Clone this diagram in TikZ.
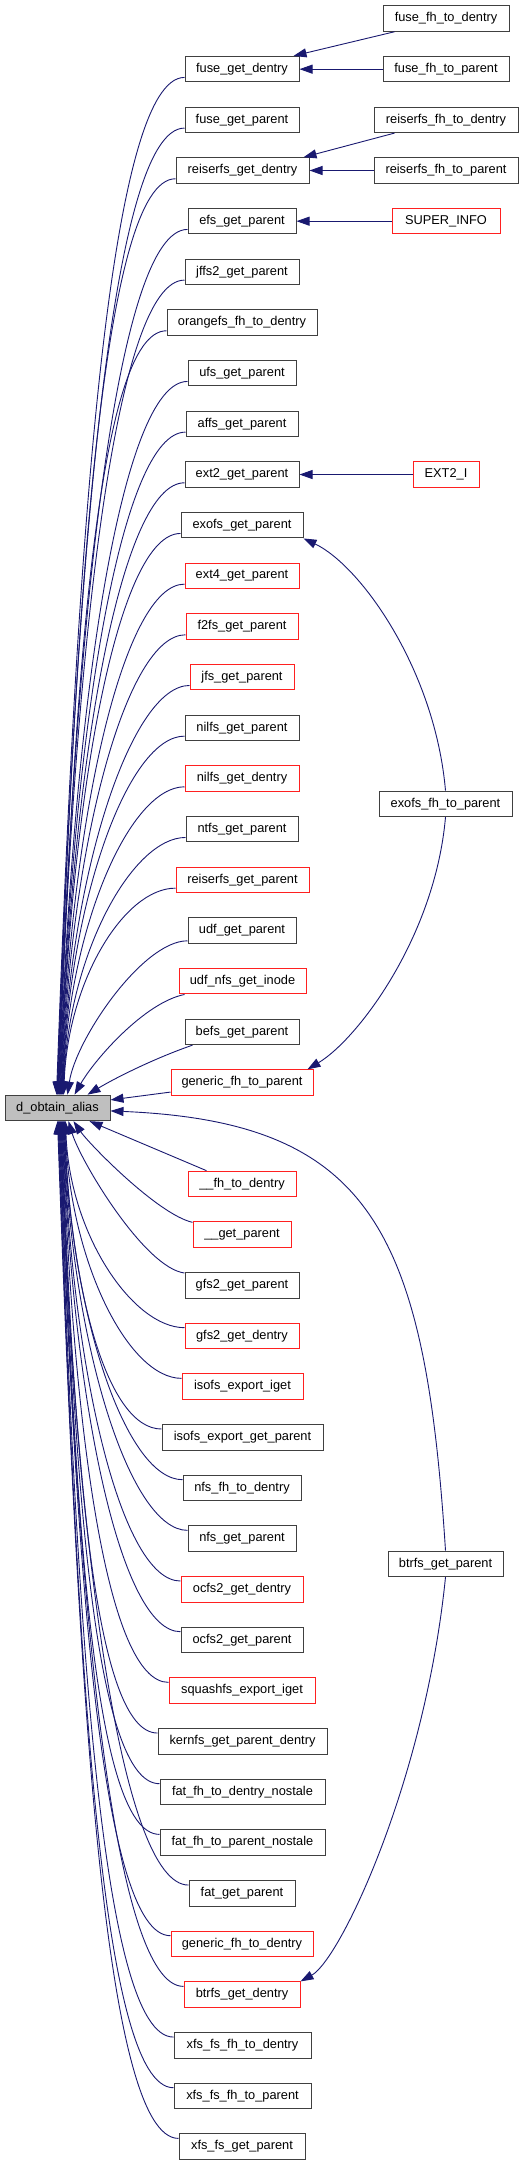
\documentclass[tikz,border=0pt]{standalone}
\usepackage{fontspec}
\setmainfont{Liberation Sans}
\usetikzlibrary{arrows.meta,calc}
\definecolor{edgeblue}{HTML}{191970}
\definecolor{boxgray}{HTML}{404040}
\definecolor{boxred}{HTML}{FF2020}
\definecolor{fillgray}{HTML}{BFBFBF}
\begin{document}
\begin{tikzpicture}[x=1pt,y=-1pt,
  fn/.style={draw=boxgray, line width=1pt, minimum height=25.5pt, inner sep=0pt,
    fill=white, font=\fontsize{12.8}{14}\selectfont},
  rn/.style={fn, draw=boxred},
  edge/.style={draw=edgeblue, line width=0.9pt, -{Triangle[length=13pt,width=9pt]}}]
\useasboundingbox (0,0) rectangle (525,2165);
% focus node
\node[fn, fill=fillgray, minimum width=105pt] (d) at (57.5,1107.9) {d\_obtain\_alias};
% right column
\node[fn, minimum width=126pt] (fftd) at (446,18.5) {fuse\_fh\_to\_dentry};
\node[fn, minimum width=126pt] (fftp) at (446,69.17) {fuse\_fh\_to\_parent};
\node[fn, minimum width=144pt] (rftd) at (446,119.84) {reiserfs\_fh\_to\_dentry};
\node[fn, minimum width=144pt] (rftp) at (446,170.51) {reiserfs\_fh\_to\_parent};
\node[rn, minimum width=108pt] (super) at (446,221.18) {SUPER\_INFO};
\node[rn, minimum width=66pt] (ext2i) at (446,474.53) {EXT2\_I};
\node[fn, minimum width=133pt] (efp) at (445.5,803.9) {exofs\_fh\_to\_parent};
\node[fn, minimum width=115pt] (btp) at (445.5,1563.9) {btrfs\_get\_parent};
% middle column
\node[fn, minimum width=114pt] (fgd) at (242,69.17) {fuse\_get\_dentry};
\node[fn, minimum width=114pt] (fgp) at (242,119.84) {fuse\_get\_parent};
\node[fn, minimum width=133pt] (rgd) at (242.5,170.51) {reiserfs\_get\_dentry};
\node[fn, minimum width=108pt] (efs) at (242,221.18) {efs\_get\_parent};
\node[fn, minimum width=114pt] (jffs) at (242,271.85) {jffs2\_get\_parent};
\node[fn, minimum width=150pt] (orange) at (242,322.52) {orangefs\_fh\_to\_dentry};
\node[fn, minimum width=108pt] (ufs) at (242,373.19) {ufs\_get\_parent};
\node[fn, minimum width=112pt] (affs) at (242,423.86) {affs\_get\_parent};
\node[fn, minimum width=114pt] (ext2) at (242,474.53) {ext2\_get\_parent};
\node[fn, minimum width=122pt] (exofs) at (242,525.2) {exofs\_get\_parent};
\node[rn, minimum width=114pt] (ext4) at (242,575.87) {ext4\_get\_parent};
\node[rn, minimum width=112pt] (f2fs) at (242,626.54) {f2fs\_get\_parent};
\node[rn, minimum width=104pt] (jfs) at (242,677.21) {jfs\_get\_parent};
\node[fn, minimum width=114pt] (nilfsp) at (242,727.88) {nilfs\_get\_parent};
\node[rn, minimum width=114pt] (nilfsd) at (242,778.55) {nilfs\_get\_dentry};
\node[fn, minimum width=112pt] (ntfs) at (242,829.22) {ntfs\_get\_parent};
\node[rn, minimum width=133pt] (rsp) at (242.5,879.89) {reiserfs\_get\_parent};
\node[fn, minimum width=108pt] (udfp) at (242,930.56) {udf\_get\_parent};
\node[rn, minimum width=127pt] (udfn) at (242.5,981.23) {udf\_nfs\_get\_inode};
\node[fn, minimum width=114pt] (befs) at (242,1031.9) {befs\_get\_parent};
\node[rn, minimum width=142pt] (gftp) at (242,1082.57) {generic\_fh\_to\_parent};
\node[rn, minimum width=108pt] (fhtd) at (242,1183.91) {\_\_fh\_to\_dentry};
\node[rn, minimum width=98pt] (gp) at (242,1234.58) {\_\_get\_parent};
\node[fn, minimum width=114pt] (gfsp) at (242,1285.25) {gfs2\_get\_parent};
\node[rn, minimum width=114pt] (gfsd) at (242,1335.92) {gfs2\_get\_dentry};
\node[rn, minimum width=121pt] (isoi) at (242.5,1386.59) {isofs\_export\_iget};
\node[fn, minimum width=161pt] (isop) at (242.5,1437.26) {isofs\_export\_get\_parent};
\node[fn, minimum width=118pt] (nfsfh) at (242,1487.93) {nfs\_fh\_to\_dentry};
\node[fn, minimum width=108pt] (nfsp) at (242,1538.6) {nfs\_get\_parent};
\node[rn, minimum width=122pt] (ocd) at (242,1589.27) {ocfs2\_get\_dentry};
\node[fn, minimum width=122pt] (ocp) at (242,1639.94) {ocfs2\_get\_parent};
\node[rn, minimum width=146pt] (squash) at (242,1690.61) {squashfs\_export\_iget};
\node[fn, minimum width=169pt] (kern) at (242.5,1741.28) {kernfs\_get\_parent\_dentry};
\node[fn, minimum width=165pt] (fatd) at (242.5,1791.95) {fat\_fh\_to\_dentry\_nostale};
\node[fn, minimum width=165pt] (fatp) at (242.5,1842.62) {fat\_fh\_to\_parent\_nostale};
\node[fn, minimum width=106pt] (fatgp) at (242,1893.29) {fat\_get\_parent};
\node[rn, minimum width=142pt] (gftd) at (242,1943.96) {generic\_fh\_to\_dentry};
\node[rn, minimum width=116pt] (btd) at (242,1994.63) {btrfs\_get\_dentry};
\node[fn, minimum width=137pt] (xfsd) at (242.5,2045.3) {xfs\_fs\_fh\_to\_dentry};
\node[fn, minimum width=137pt] (xfsp) at (242.5,2095.97) {xfs\_fs\_fh\_to\_parent};
\node[fn, minimum width=126pt] (xfsg) at (242,2146.64) {xfs\_fs\_get\_parent};
% right-side connectors
\draw[edge] ([xshift=12pt]fftd.south west) -- ([xshift=-6pt]fgd.north east);
\draw[edge] (fftp.west) -- (fgd.east);
\draw[edge] ([xshift=21pt]rftd.south west) -- ([xshift=-6pt]rgd.north east);
\draw[edge] (rftp.west) -- (rgd.east);
\draw[edge] (super.west) -- (efs.east);
\draw[edge] (ext2i.west) -- (ext2.east);
\draw[edge] (efp.north) .. controls +(-10.5,-121) and +(57,27) .. (exofs.south east);
\draw[edge] (efp.south) .. controls +(-10.5,120) and +(50,-30) .. ([xshift=-6pt]gftp.north east);
\draw[edge] (btp.north) .. controls +(-20.5,-321) and +(260,11) .. ([yshift=-3pt]d.east);
\draw[edge] (btp.south) .. controls +(-20.5,203) and +(40,-22) .. (btd.north east);
% callers above the focus node
\foreach \n/\r/\tx in {fgd/1/52, fgp/2/52.5, rgd/3/53, efs/4/53.3, jffs/5/53.8,
  orange/6/54.2, ufs/7/54.7, affs/8/55.1, ext2/9/55.6, exofs/10/56, ext4/11/56.5,
  f2fs/12/57, jfs/13/57.4, nilfsp/14/57.9, nilfsd/15/58.3, ntfs/16/58.8, rsp/17/59.2}{
  \pgfmathsetmacro\myDY{1068.75-50.67*\r}
  \pgfmathsetmacro\myA{45+0.03*\myDY}
  \pgfmathsetmacro\myH{0.55*\myDY}
  \pgfmathsetmacro\myC{0.02*\myDY}
  \draw[edge] ([yshift=5pt]\n.south west) .. controls +(-\myA,0) and +(\myC,-\myH) .. ([xshift=\tx pt]d.north west);
}
\draw[edge] ([yshift=3pt]udfp.south west) .. controls +(-45,0) and +(8,-55) .. ([xshift=63pt]d.north west);
\draw[edge] ([xshift=6pt]udfn.south west) .. controls +(-40,8) and +(20,-35) .. ([xshift=70pt]d.north west);
\draw[edge] ([xshift=8pt]befs.south west) .. controls +(-35,12) and +(30,-18) .. ([xshift=83pt]d.north west);
\draw[edge] ([yshift=-9.5pt]gftp.west) -- ([yshift=8pt]d.east);
% callers below the focus node
\draw[edge] ([xshift=19pt]fhtd.north west) -- ([xshift=85pt]d.south west);
\draw[edge] ([yshift=-1pt]gp.north west) .. controls +(-35,-8) and +(15,22) .. ([xshift=69pt]d.south west);
\draw[edge] ([yshift=-1pt]gfsp.north west) .. controls +(-40,-5) and +(12,40) .. ([xshift=64pt]d.south west);
\foreach \n/\r/\tx in {gfsd/26/61, isoi/27/60.5, isop/28/60, nfsfh/29/59.5, nfsp/30/59,
  ocd/31/58.5, ocp/32/58, squash/33/57.5, kern/34/57, fatd/35/56.5, fatp/36/56,
  fatgp/37/55.5, gftd/38/55, btd/39/54.5, xfsd/40/54, xfsp/41/53.5, xfsg/42/53}{
  \pgfmathsetmacro\myDY{50.67*\r-1110.25}
  \pgfmathsetmacro\myA{45+0.03*\myDY}
  \pgfmathsetmacro\myH{0.55*\myDY}
  \pgfmathsetmacro\myC{0.02*\myDY}
  \draw[edge] ([yshift=-5pt]\n.north west) .. controls +(-\myA,0) and +(\myC,\myH) .. ([xshift=\tx pt]d.south west);
}
\end{tikzpicture}
\end{document}
